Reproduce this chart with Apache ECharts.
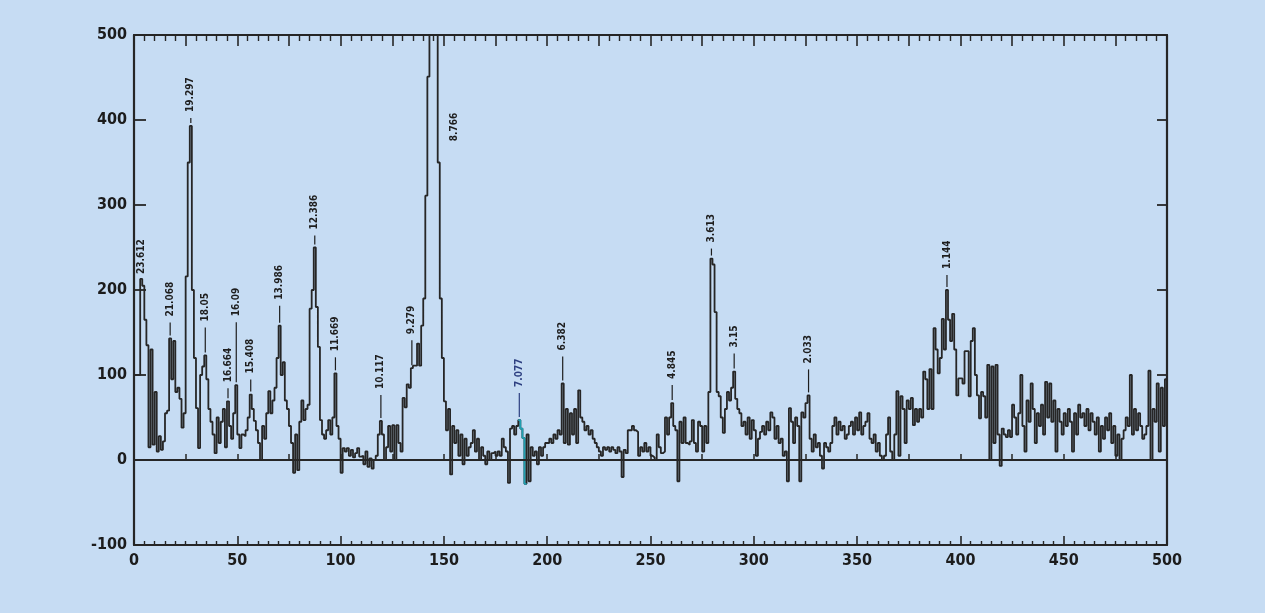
<!DOCTYPE html>
<html>
<head>
<meta charset="utf-8">
<script src="https://cdn.jsdelivr.net/npm/echarts@6/dist/echarts.min.js"></script>
<style>
  html, body { margin: 0; padding: 0; background: #c6dcf3; }
  #chart { width: 1265px; height: 613px; }
</style>
</head>
<body>
<div id="chart"></div>
<script>
// Counts per channel (0..499)
const counts = [
  100,100,100,213,205,165,135,15,130,18,
  80,10,28,12,22,55,58,143,95,140,
  80,85,72,38,55,216,350,393,200,120,
  61,14,100,110,123,95,60,45,30,8,
  50,20,45,60,15,69,40,25,55,88,
  30,14,30,28,35,50,77,60,46,35,
  20,0,40,25,55,81,55,70,85,120,
  158,100,115,70,60,40,20,-15,30,-12,
  45,70,47,60,65,178,200,250,180,133,
  47,30,25,35,47,30,50,102,40,25,
  -15,14,10,14,5,12,3,8,14,4,
  5,-5,10,-8,2,-10,0,5,30,46,
  30,0,15,40,10,41,0,41,20,10,
  73,62,89,85,108,111,111,137,111,158,
  190,311,451,510,510,510,510,350,190,120,
  69,35,60,-17,40,20,35,5,30,-5,
  25,5,15,20,35,10,25,0,15,5,
  -5,10,0,8,10,5,10,5,25,15,
  10,-27,37,40,30,40,47,37,26,-28,
  30,-25,15,5,10,-5,15,5,15,20,
  20,25,20,30,25,35,30,90,20,60,
  18,55,30,60,20,82,50,45,35,40,
  30,35,25,20,15,10,5,15,12,15,
  10,15,12,8,15,10,-20,12,8,35,
  35,40,35,33,5,15,10,20,10,15,
  5,3,0,30,15,8,10,50,30,50,
  67,40,35,-25,45,20,50,20,18,22,
  47,20,10,45,40,10,40,20,80,237,
  230,174,80,75,50,32,60,80,70,85,
  104,72,60,55,40,45,30,50,25,47,
  35,5,25,33,40,30,45,35,56,50,
  25,40,20,25,5,10,-25,61,45,20,
  50,40,-25,56,50,67,76,25,10,30,
  15,20,5,-10,20,15,10,20,40,50,
  30,45,35,40,25,30,40,45,30,50,
  35,56,30,40,45,55,25,20,30,10,
  20,5,0,5,30,50,10,0,30,81,
  5,75,60,20,70,60,73,41,60,45,
  60,50,104,95,60,107,60,155,130,102,
  120,166,130,200,165,140,172,130,76,96,
  96,90,128,128,75,140,155,100,76,49,
  80,75,50,112,0,110,20,112,30,-7,
  37,30,27,35,27,65,50,30,55,100,
  40,10,70,45,90,60,20,55,40,65,
  30,92,50,90,45,70,10,60,45,30,
  55,40,60,45,10,55,30,65,50,55,
  40,60,35,55,45,30,50,10,40,25,
  50,35,55,20,40,5,30,0,25,35,
  50,40,100,30,60,35,55,40,25,30,
  40,105,0,60,45,90,10,85,40,95
];

// Labelled peaks: channel and d-value text
const peakChannels = [3,17,27,34,45,49,56,70,87,97,119,134,146,186,207,260,279,290,326,393];
const peakLabels = ['23.612','21.068','19.297','18.05','16.664','16.09','15.408','13.986','12.386','11.669',
                    '10.117','9.279','8.766','7.077','6.382','4.845','3.613','3.15','2.033','1.144'];

// Channels drawn in teal (ink mark on the trace)
const tealChannels = [186,187,188,189];

const xTicks = [0,50,100,150,200,250,300,350,400,450,500];
const yTicks = [-100,0,100,200,300,400,500];

// Stem length (px) under each peak label
const stemLen = [0,13,5,25,10,60,12,17,9,13,23,25,0,24,24,15,7,15,23,12];

const INK = '#262626';
const AXIS_FONT = 'DejaVu Sans Condensed';

const stepData = counts.map((v, i) => [i, v]);
stepData.push([counts.length, counts[counts.length - 1]]);

const tealData = tealChannels.map(c => [c, counts[c]]);
tealData.push([tealChannels[tealChannels.length - 1] + 1, counts[tealChannels[tealChannels.length - 1]]]);

const labelData = peakChannels.map((c, i) => [c, counts[c], i]);

const chart = echarts.init(document.getElementById('chart'));

const xMin = xTicks[0], xMax = xTicks[xTicks.length - 1];
const yMin = yTicks[0], yMax = yTicks[yTicks.length - 1];

chart.setOption({
  backgroundColor: '#c6dcf3',
  animation: false,
  grid: { left: 134, right: 98, top: 35, bottom: 68 },
  xAxis: [
    {
      type: 'value', min: xMin, max: xMax, interval: 50, position: 'bottom',
      axisLine: { show: true, onZero: false, lineStyle: { color: INK, width: 2.2 } },
      axisTick: { show: true, inside: true, length: 9, lineStyle: { color: INK, width: 1.6 } },
      minorTick: { show: true, splitNumber: 10, length: 4, lineStyle: { color: INK, width: 1.4 } },
      axisLabel: { show: true, margin: 8, color: '#1c1c1c', fontFamily: AXIS_FONT, fontWeight: 'bold', fontSize: 16 },
      splitLine: { show: false }, minorSplitLine: { show: false }
    },
    {
      type: 'value', min: xMin, max: xMax, interval: 25, position: 'bottom', offset: 0,
      axisLine: { show: false },
      axisTick: { show: true, inside: true, length: 6, lineStyle: { color: INK, width: 1.5 } },
      axisLabel: { show: false }, splitLine: { show: false }
    },
    {
      type: 'value', min: xMin, max: xMax, interval: 25, position: 'top',
      axisLine: { show: true, onZero: false, lineStyle: { color: INK, width: 2.2 } },
      axisTick: { show: true, inside: true, length: 11, lineStyle: { color: INK, width: 1.6 } },
      minorTick: { show: true, splitNumber: 5, length: 6, lineStyle: { color: INK, width: 1.4 } },
      axisLabel: { show: false }, splitLine: { show: false }
    }
  ],
  yAxis: [
    {
      type: 'value', min: yMin, max: yMax, interval: 100, position: 'left',
      axisLine: { show: true, onZero: false, lineStyle: { color: INK, width: 2.2 } },
      axisTick: { show: true, inside: true, length: 12, lineStyle: { color: INK, width: 1.8 } },
      axisLabel: { show: true, margin: 7, color: '#1c1c1c', fontFamily: AXIS_FONT, fontWeight: 'bold', fontSize: 16 },
      splitLine: { show: false }
    },
    {
      type: 'value', min: yMin, max: yMax, interval: 100, position: 'right',
      axisLine: { show: true, onZero: false, lineStyle: { color: INK, width: 2.2 } },
      axisTick: { show: true, inside: true, length: 10, lineStyle: { color: INK, width: 1.8 } },
      axisLabel: { show: false }, splitLine: { show: false }
    }
  ],
  series: [
    {
      type: 'line', step: 'end', xAxisIndex: 0, yAxisIndex: 0,
      data: stepData, symbol: 'none', clip: true,
      lineStyle: { color: INK, width: 1.8 },
      markLine: {
        silent: true, symbol: 'none', label: { show: false },
        lineStyle: { color: INK, width: 2, type: 'solid' },
        data: [{ yAxis: 0 }]
      },
      z: 3
    },
    {
      type: 'line', step: 'end', xAxisIndex: 0, yAxisIndex: 0,
      data: tealData, symbol: 'none',
      lineStyle: { color: '#1f9fb0', width: 1.8 },
      z: 4
    },
    {
      type: 'custom', xAxisIndex: 0, yAxisIndex: 0, clip: false, z: 5,
      data: labelData,
      renderItem: function (params, api) {
        const ch = api.value(0);
        const v = api.value(1);
        const idx = api.value(2);
        const text = peakLabels[idx];
        const isTeal = tealChannels.indexOf(ch) >= 0;
        const color = isTeal ? '#2d3f80' : '#1e1e1e';
        const children = [];
        if (v > yMax) {
          // clipped peak: label sits beside the right flank
          const p = api.coord([ch + 0.5, 375]);
          children.push({
            type: 'text', x: p[0] + 18, y: p[1], rotation: Math.PI / 2,
            style: { text: text, fill: color, font: 'bold 10px "DejaVu Sans Condensed"', align: 'left', verticalAlign: 'middle' }
          });
          return { type: 'group', children: children };
        }
        const p = api.coord([ch + 0.5, v]);
        const L = stemLen[idx];
        const y0 = p[1] - 3;
        if (L > 0) {
          children.push({
            type: 'line',
            shape: { x1: p[0], y1: y0, x2: p[0], y2: y0 - L },
            style: { stroke: color, lineWidth: 1.2 }
          });
        }
        children.push({
          type: 'text', x: p[0], y: y0 - L - (L > 0 ? 6 : 2), rotation: Math.PI / 2,
          style: { text: text, fill: color, font: 'bold 10px "DejaVu Sans Condensed"', align: 'left', verticalAlign: 'middle' }
        });
        return { type: 'group', children: children };
      }
    }
  ]
});
</script>
</body>
</html>
